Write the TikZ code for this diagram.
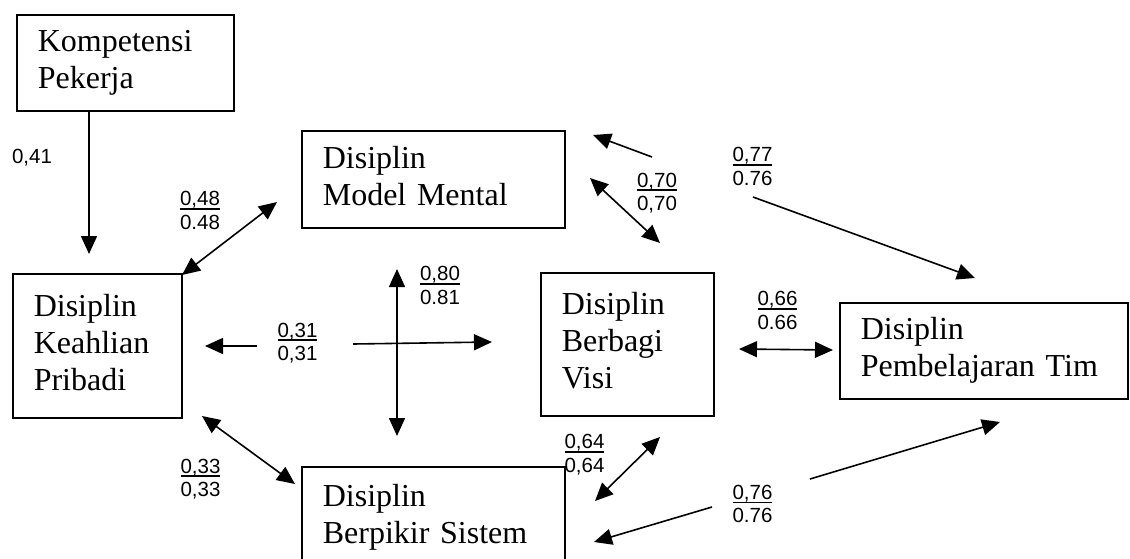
\documentclass[tikz,border=0pt]{standalone}
\usepackage{fontspec}
\setmainfont{Liberation Serif}
\setsansfont{Liberation Sans}
\usetikzlibrary{arrows.meta, positioning}

\tikzset{
  kotak/.style={draw, line width=1.6pt, rectangle, anchor=north west,
    inner xsep=21pt, inner ysep=0pt, align=left,
    font=\fontsize{32}{37}\selectfont,
    execute at begin node=\strut, execute at end node=\strut},
  koef/.style={inner sep=0pt, align=left, font=\sffamily\fontsize{20.5}{23.5}\selectfont},
  panah/.style={line width=1.6pt, -{Triangle[length=18pt,width=16pt]}},
  panahdua/.style={line width=1.6pt, {Triangle[length=18pt,width=16pt]}-{Triangle[length=18pt,width=16pt]}},
}
% koefisien: atas bergaris bawah (garis tebal), bawah biasa
\newcommand{\angka}[2]{\setbox0\hbox{#1}\rlap{\rule[-4pt]{\wd0}{1.8pt}}\box0\\#2}

\begin{document}
\begin{tikzpicture}[x=1pt,y=-1pt]
  \useasboundingbox (0,0) rectangle (1130,558);

  % kotak variabel
  \node[kotak, text width=175pt, minimum height=96pt] (kompetensi) at (16,14) {Kompetensi\\Pekerja};
  \node[kotak, text width=221pt, minimum height=97pt] (mental) at (301,130) {Disiplin\\Model Mental};
  \node[kotak, text width=127pt, minimum height=144pt] (keahlian) at (12,273) {Disiplin\\Keahlian\\Pribadi};
  \node[kotak, text width=131pt, minimum height=143pt] (visi) at (540,272) {Disiplin\\Berbagi\\Visi};
  \node[kotak, text width=246pt, minimum height=96pt] (tim) at (839,302) {Disiplin\\Pembelajaran Tim};
  \node[kotak, text width=221pt, minimum height=102pt] (sistem) at (301,466) {Disiplin\\Berpikir Sistem};

  % ujung-ujung panah
  \coordinate (kp1) at (89,110);   \coordinate (kp2) at (89,254);
  \coordinate (mk1) at (182,275);  \coordinate (mk2) at (277,202);
  \coordinate (ms1) at (397,269);  \coordinate (ms2) at (397,436);
  \coordinate (kv1) at (257,346);  \coordinate (kv2) at (205,346);
  \coordinate (kv3) at (353,344);  \coordinate (kv4) at (492,342);
  \coordinate (ks1) at (202,416);  \coordinate (ks2) at (295,484);
  \coordinate (mv1) at (652,157);  \coordinate (mv2) at (593,135);
  \coordinate (mv3) at (590,178);  \coordinate (mv4) at (660,243);
  \coordinate (mt1) at (753,197);  \coordinate (mt2) at (975,278);
  \coordinate (vt1) at (739,349);  \coordinate (vt2) at (833,350);
  \coordinate (vs1) at (660,437);  \coordinate (vs2) at (595,501);
  \coordinate (ts1) at (712,507);  \coordinate (ts2) at (594,542);
  \coordinate (st1) at (810,479);  \coordinate (st2) at (1000,422);

  \draw[panah] (kp1) -- (kp2);
  \draw[panahdua] (mk1) -- (mk2);
  \draw[panahdua] (ms1) -- (ms2);
  \draw[panah] (kv1) -- (kv2);
  \draw[panah] (kv3) -- (kv4);
  \draw[panahdua] (ks1) -- (ks2);
  \draw[panah] (mv1) -- (mv2);
  \draw[panahdua] (mv3) -- (mv4);
  \draw[panah] (mt1) -- (mt2);
  \draw[panahdua] (vt1) -- (vt2);
  \draw[panahdua] (vs1) -- (vs2);
  \draw[panah] (ts1) -- (ts2);
  \draw[panah] (st1) -- (st2);

  % koefisien jalur
  \node[koef] (k041) at (32,158) {0,41};
  \node[koef] (k048) at (200,210.5) {\angka{0,48}{0.48}};
  \node[koef] (k070) at (657,193) {\angka{0,70}{0,70}};
  \node[koef] (k077) at (752.5,166.5) {\angka{0,77}{0.76}};
  \node[koef] (k080) at (440,285.5) {\angka{0,80}{0.81}};
  \node[koef] (k031) at (297.5,343) {\angka{0,31}{0,31}};
  \node[koef] (k066) at (777.5,310.5) {\angka{0,66}{0.66}};
  \node[koef] (k033) at (200.5,479) {\angka{0,33}{0,33}};
  \node[koef] (k064) at (584.5,454.5) {\angka{0,64}{0,64}};
  \node[koef] (k076) at (752.5,504) {\angka{0,76}{0.76}};
\end{tikzpicture}
\end{document}
